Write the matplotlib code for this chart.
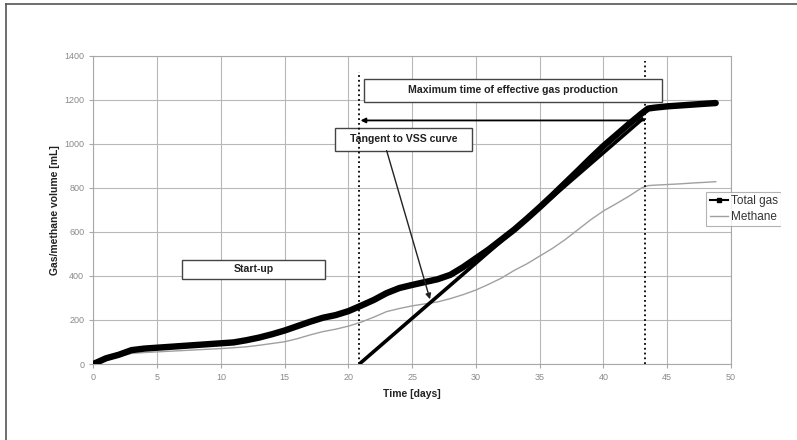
import matplotlib
matplotlib.use('Agg')
import matplotlib.pyplot as plt
from matplotlib.patches import Rectangle
from matplotlib.lines import Line2D

# cumulative gas production
days = [0, 1, 2, 3, 4, 5, 6, 7, 8, 9, 10, 11, 12, 13, 14, 15, 16, 17, 18, 19, 20,
        21, 22, 23, 24, 25, 26, 27, 28, 29, 30, 31, 32, 33, 34, 35, 36, 37, 38, 39, 40,
        41, 42, 43, 43.5, 44, 45, 46, 47, 48, 48.8]
total_gas = [0, 26, 42, 63, 70, 74, 78, 82, 86, 90, 94, 98, 108, 120, 135, 152, 172, 192, 210, 222, 240,
             265, 291, 322, 345, 359, 372, 385, 405, 440, 480, 520, 565, 610, 660, 712, 766, 822, 878, 935, 990,
             1040, 1090, 1138, 1160, 1164, 1170, 1174, 1178, 1182, 1185]
methane = [0, 18, 33, 48, 52, 55, 58, 61, 64, 67, 70, 74, 78, 85, 93, 101, 115, 132, 147, 158, 172,
           190, 213, 238, 252, 264, 273, 282, 297, 315, 336, 362, 390, 425, 455, 490, 525, 565, 610, 655, 695,
           728, 762, 800, 810, 812, 815, 818, 822, 825, 828]

tangent_x = [20.86, 43.14]
tangent_y = [0, 1117]

start_day = 20.86
end_day = 43.25

x_ticks = [0, 5, 10, 15, 20, 25, 30, 35, 40, 45, 50]
y_ticks = [0, 200, 400, 600, 800, 1000, 1200, 1400]

plt.rcParams['font.family'] = ['Liberation Sans', 'DejaVu Sans']

fig = plt.figure(figsize=(7.97, 4.40), dpi=100)
ax = fig.add_axes([93.3 / 797, 1 - 364 / 440, (731 - 93.3) / 797, (364 - 55.7) / 440])

# frame around the whole picture (only top/left visible in the original)
fig.add_artist(Line2D([5.5 / 797, 5.5 / 797], [0, 1 - 4.5 / 440], color='#555555', lw=1.2))
fig.add_artist(Line2D([5.5 / 797, 1], [1 - 4.5 / 440, 1 - 4.5 / 440], color='#555555', lw=1.2))

ax.set_xlim(0, 50)
ax.set_ylim(0, 1400)
ax.set_xticks(x_ticks)
ax.set_yticks(y_ticks)
ax.grid(True, color='#b8b8b8', lw=0.8)
ax.set_axisbelow(True)
for s in ax.spines.values():
	s.set_color('#a8a8a8')
	s.set_linewidth(0.8)
ax.tick_params(colors='#a8a8a8', labelcolor='#8a8a8a', labelsize=6.5, length=3, width=0.8)

ax.plot(days, methane, '-', color='#a0a0a0', lw=1.0, zorder=3)
# markers of the excel series merge into one thick smooth line
ax.plot(days, total_gas, '-', color='black', lw=4.6, solid_joinstyle='round',
        solid_capstyle='round', zorder=4)
ax.plot(tangent_x, tangent_y, '-', color='black', lw=2.6, solid_capstyle='butt', zorder=4)

# dotted limits of the effective production window
ax.plot([start_day, start_day], [0, 1326], ':', color='black', lw=1.3, zorder=6)
ax.plot([end_day, end_day], [0, 1374], ':', color='black', lw=1.3, zorder=6)

# text boxes
def label_box(x0, x1, y0, y1, text, z):
	ax.add_patch(Rectangle((x0, y0), x1 - x0, y1 - y0, facecolor='white',
	                       edgecolor='#444444', lw=1.0, zorder=z))
	ax.text((x0 + x1) / 2, (y0 + y1) / 2, text, ha='center', va='center',
	        fontsize=7.6, fontweight='bold', color='#222222', zorder=z + 0.1)

label_box(21.2, 44.6, 1191, 1295, 'Maximum time of effective gas production', 7)
label_box(18.96, 29.7, 969, 1071, 'Tangent to VSS curve', 5)
label_box(6.96, 18.2, 388, 471, 'Start-up', 5)

ax.annotate('', xy=(20.95, 1106), xytext=(43.2, 1106),
            arrowprops=dict(arrowstyle='-|>', color='black', lw=1.3, mutation_scale=7,
                            shrinkA=0, shrinkB=0), zorder=6)
ax.annotate('', xy=(26.4, 294), xytext=(23.0, 969),
            arrowprops=dict(arrowstyle='-|>', color='#222222', lw=1.0, mutation_scale=8,
                            shrinkA=0, shrinkB=0), zorder=6)

ax.set_xlabel('Time [days]', fontsize=7.5, fontweight='bold', color='#222222', labelpad=5)
ax.set_ylabel('Gas/methane volume [mL]', fontsize=7.5, fontweight='bold', color='#222222', labelpad=3)

handles = [Line2D([], [], color='black', lw=1.5, marker='s', ms=3),
           Line2D([], [], color='#a0a0a0', lw=1.0)]
leg = ax.legend(handles, ['Total gas', 'Methane'], loc='upper left',
                bbox_to_anchor=(706 / 797, 1 - 191.7 / 440), bbox_transform=fig.transFigure,
                fontsize=8.5, frameon=True, fancybox=False, borderpad=0.3,
                handlelength=1.6, handletextpad=0.2, labelspacing=0.3, borderaxespad=0)
leg.get_frame().set_edgecolor('#a0a0a0')
leg.get_frame().set_linewidth(0.8)
for t in leg.get_texts():
	t.set_color('#333333')

# the original picture is cut off just right of the legend text
fig.add_artist(Rectangle((781 / 797, 1 - 240 / 440), 16 / 797, 60 / 440,
                         transform=fig.transFigure, facecolor='white', edgecolor='none', zorder=10))

plt.savefig('out.png', dpi=100)
